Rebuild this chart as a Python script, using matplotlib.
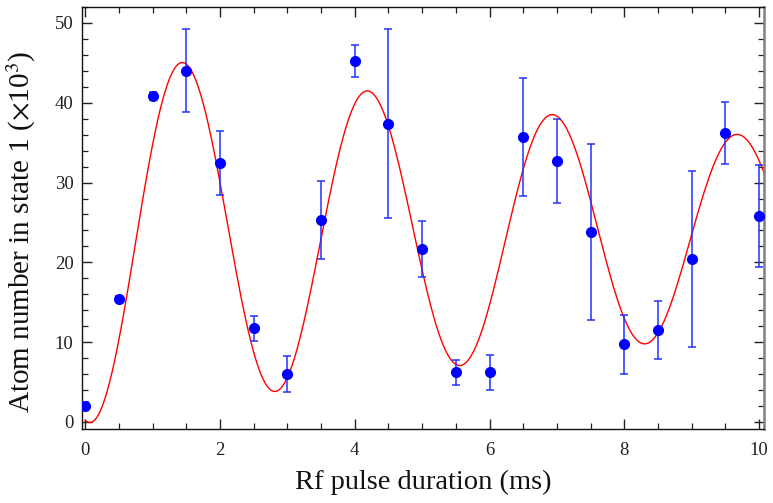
import numpy as np
import matplotlib
matplotlib.use("Agg")
import matplotlib.pyplot as plt
from matplotlib.ticker import MultipleLocator

# Data
t_ms = [0.0, 0.5, 1.0, 1.5, 2.0, 2.5, 3.0, 3.5, 4.0, 4.5, 5.0, 5.5, 6.0,
        6.5, 7.0, 7.5, 8.0, 8.5, 9.0, 9.5, 10.0]
atoms = [2.0, 15.4, 40.9, 44.0, 32.5, 11.75, 6.0, 25.3, 45.2, 37.4, 21.7, 6.2, 6.2,
         35.7, 32.7, 23.8, 9.7, 11.55, 20.4, 36.2, 25.85]
errors = [0.55, 0.4, 0.5, 5.2, 4.0, 1.55, 2.2, 4.9, 2.0, 11.8, 3.5, 1.6, 2.15,
          7.35, 5.25, 11.05, 3.7, 3.65, 11.0, 3.85, 6.4]

# Fitted damped Rabi oscillation parameters
fit_offset = 23.5
fit_amplitude = 23.7
fit_tau = 15.2
fit_period = 2.745
fit_t0 = 0.08

x_ticks = [0, 2, 4, 6, 8, 10]
y_ticks = [0, 10, 20, 30, 40, 50]

plt.rcParams['font.family'] = ['Liberation Serif', 'DejaVu Serif']
plt.rcParams['mathtext.fontset'] = 'stix'

fig = plt.figure(figsize=(7.73, 5.03), dpi=100)
ax = fig.add_axes([0.106, 0.147, 0.882, 0.839])

tt = np.linspace(0, 10.1, 600)
fit = fit_offset - fit_amplitude * np.exp(-tt / fit_tau) * np.cos(2 * np.pi * (tt - fit_t0) / fit_period)
ax.plot(tt, fit, color='red', lw=1.0, zorder=2)

ax.errorbar(t_ms, atoms, yerr=errors, fmt='o', color='blue', ecolor='#2233ff',
            elinewidth=1.1, capsize=3, capthick=1.1, markersize=7, zorder=3)

ax.set_xlim(-0.05, 10.07)
ax.set_ylim(-0.9, 52)
ax.set_xticks(x_ticks)
ax.set_yticks(y_ticks)
ax.xaxis.set_minor_locator(MultipleLocator(0.5))
ax.yaxis.set_minor_locator(MultipleLocator(2))
ax.tick_params(which='both', direction='in', top=True, right=True, colors='#222222',
               labelsize=13.5)
ax.tick_params(which='major', length=7, width=1.0)
ax.tick_params(which='minor', length=4, width=0.9)
ax.tick_params(axis='x', pad=9)
ax.tick_params(axis='y', pad=6)
for s in ['left', 'bottom', 'top']:
    ax.spines[s].set_linewidth(1.0)
    ax.spines[s].set_color('#111111')
ax.spines['right'].set_linewidth(1.8)
ax.spines['right'].set_color('#808080')

ax.set_xlabel('Rf pulse duration (ms)', fontsize=20.5, color='#111111', labelpad=8)
ax.set_ylabel(r'Atom number in state 1 ($\times$10$^{3}$)', fontsize=21, color='#111111')
ax.yaxis.set_label_coords(-0.064, 0.468)

fig.savefig('out.png', dpi=100)
